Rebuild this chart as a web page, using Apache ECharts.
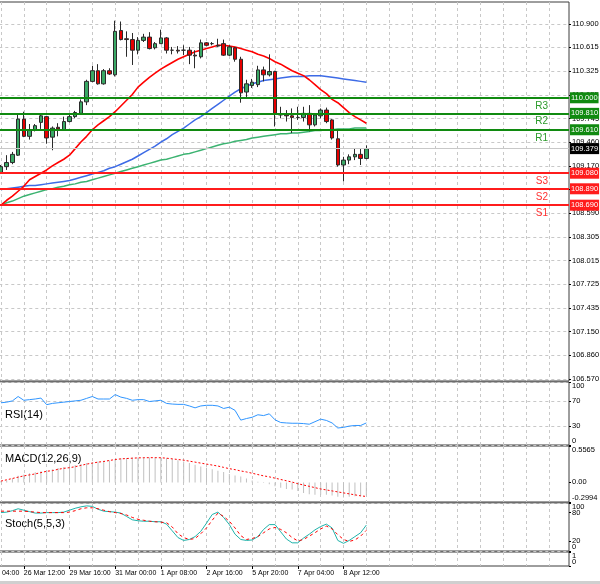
<!DOCTYPE html>
<html><head><meta charset="utf-8">
<script src="https://cdn.jsdelivr.net/npm/echarts@6/dist/echarts.min.js"></script>
<style>html,body{margin:0;padding:0;background:#fff}#c{width:600px;height:584px}</style>
</head><body><div id="c"></div>
<script>
// ---------- DATA ----------
// first 4 time slots lie left of the visible area (only the cut "04:00" label shows)
const leadTimes = ['25 Mar 04:00','25 Mar 08:00','25 Mar 12:00','25 Mar 16:00'];
const times = ['25 Mar 20:00','26 Mar 00:00','26 Mar 04:00','26 Mar 08:00','26 Mar 12:00','26 Mar 16:00','26 Mar 20:00','28 Mar 20:00',
'29 Mar 00:00','29 Mar 04:00','29 Mar 08:00','29 Mar 12:00','29 Mar 16:00','29 Mar 20:00','30 Mar 00:00','30 Mar 04:00',
'30 Mar 08:00','30 Mar 12:00','30 Mar 16:00','30 Mar 20:00','31 Mar 00:00','31 Mar 04:00','31 Mar 08:00','31 Mar 12:00',
'31 Mar 16:00','31 Mar 20:00','1 Apr 00:00','1 Apr 04:00','1 Apr 08:00','1 Apr 12:00','1 Apr 16:00','1 Apr 20:00',
'2 Apr 00:00','2 Apr 04:00','2 Apr 08:00','2 Apr 12:00','2 Apr 16:00','2 Apr 20:00','4 Apr 20:00','5 Apr 00:00',
'5 Apr 04:00','5 Apr 08:00','5 Apr 12:00','5 Apr 16:00','5 Apr 20:00','6 Apr 00:00','6 Apr 04:00','6 Apr 08:00',
'6 Apr 12:00','6 Apr 16:00','6 Apr 20:00','7 Apr 00:00','7 Apr 04:00','7 Apr 08:00','7 Apr 12:00','7 Apr 16:00',
'7 Apr 20:00','8 Apr 00:00','8 Apr 04:00','8 Apr 08:00','8 Apr 12:00','8 Apr 16:00','8 Apr 20:00','9 Apr 00:00','9 Apr 04:00'];
const timeLabels = ['25 Mar 04:00','26 Mar 12:00','29 Mar 16:00','31 Mar 00:00','1 Apr 08:00','2 Apr 16:00','5 Apr 20:00','7 Apr 04:00','8 Apr 12:00'];

const open = [109.09,109.16,109.21,109.30,109.74,109.53,109.61,109.70,109.77,109.52,
109.64,109.61,109.71,109.77,109.81,109.95,110.20,110.33,110.17,110.33,
110.28,110.82,110.72,110.71,110.58,110.70,110.74,110.61,110.66,110.73,
110.58,110.58,110.58,110.58,110.52,110.50,110.67,110.66,110.64,110.66,
110.52,110.61,110.47,110.07,110.15,110.16,110.34,110.28,110.32,109.80,
109.79,109.78,109.76,109.76,109.81,109.67,109.78,109.85,109.73,109.50,
109.18,109.24,109.28,109.31,109.26];
const high = [109.18,109.30,109.34,109.81,109.83,109.68,109.68,109.79,109.78,109.65,
109.69,109.77,109.80,109.84,109.98,110.22,110.39,110.41,110.35,110.36,
110.94,110.93,110.81,110.79,110.74,110.78,110.80,110.68,110.83,110.74,
110.62,110.63,110.64,110.62,110.58,110.71,110.68,110.68,110.72,110.71,
110.64,110.62,110.50,110.22,110.23,110.39,110.38,110.53,110.33,109.89,
109.85,109.87,109.89,109.89,109.91,109.81,109.87,109.88,109.74,109.61,
109.28,109.31,109.38,109.38,109.42];
const low = [109.07,109.12,109.19,109.29,109.52,109.49,109.59,109.62,109.44,109.36,
109.53,109.60,109.70,109.75,109.79,109.91,110.19,110.16,110.16,110.28,
110.26,110.70,110.50,110.40,110.53,110.68,110.59,110.59,110.66,110.54,
110.53,110.54,110.52,110.41,110.36,110.48,110.63,110.64,110.62,110.51,
110.51,110.44,109.94,110.01,110.12,110.13,110.20,110.26,109.65,109.75,
109.71,109.57,109.73,109.71,109.59,109.65,109.75,109.69,109.49,109.16,
108.98,109.19,109.24,109.18,109.25];
const close = [109.16,109.21,109.31,109.74,109.53,109.61,109.66,109.78,109.51,109.63,
109.62,109.71,109.77,109.82,109.95,110.20,110.33,110.17,110.33,110.29,
110.81,110.71,110.71,110.58,110.70,110.74,110.60,110.66,110.73,110.58,
110.58,110.57,110.58,110.52,110.51,110.67,110.64,110.66,110.63,110.52,
110.62,110.47,110.06,110.17,110.19,110.34,110.28,110.32,109.81,109.79,
109.78,109.76,109.76,109.81,109.67,109.79,109.85,109.71,109.51,109.18,
109.24,109.28,109.31,109.26,109.379];

const maRed = [108.69,108.75,108.80,108.86,108.92,109.00,109.04,109.08,109.12,109.17,
109.21,109.25,109.30,109.38,109.46,109.53,109.61,109.67,109.72,109.77,
109.83,109.90,109.97,110.04,110.13,110.19,110.25,110.30,110.35,110.39,
110.43,110.47,110.50,110.53,110.56,110.58,110.60,110.62,110.64,110.64,
110.63,110.62,110.60,110.58,110.56,110.53,110.51,110.48,110.44,110.41,
110.37,110.33,110.30,110.27,110.22,110.16,110.10,110.05,109.98,109.94,
109.88,109.82,109.77,109.73,109.69];
const maBlue = [108.88,108.89,108.90,108.91,108.92,108.93,108.93,108.94,108.95,108.96,
108.97,108.98,108.99,109.01,109.03,109.05,109.07,109.09,109.11,109.14,
109.16,109.19,109.22,109.25,109.29,109.33,109.37,109.41,109.46,109.50,
109.55,109.59,109.63,109.68,109.73,109.77,109.82,109.87,109.92,109.97,
110.02,110.07,110.11,110.14,110.17,110.19,110.21,110.22,110.23,110.24,
110.25,110.26,110.26,110.26,110.27,110.27,110.27,110.26,110.25,110.24,
110.23,110.22,110.21,110.20,110.19];
const maGreen = [108.69,108.72,108.74,108.77,108.80,108.82,108.84,108.86,108.88,108.89,
108.91,108.92,108.94,108.95,108.97,108.98,109.00,109.02,109.04,109.06,
109.08,109.10,109.12,109.14,109.16,109.18,109.20,109.22,109.24,109.25,
109.27,109.29,109.31,109.32,109.34,109.36,109.38,109.40,109.42,109.44,
109.45,109.47,109.48,109.49,109.51,109.52,109.53,109.54,109.55,109.56,
109.56,109.57,109.57,109.58,109.59,109.60,109.60,109.61,109.61,109.62,
109.62,109.62,109.63,109.63,109.63];

const rsi = [67,68,70,77,71,72,73,74.5,64,66,
67,68,69,70,71,74,77,73,73,73,
80,76,74,71,72,72,69,70,71,66,
65,64.5,64.5,62,59,62,63,63,62,58,
60,55,39.5,42,44,48,46.7,49.5,40,35.7,
35,34.5,34.5,34,33,37,41,39,35,27,
28,30,31,31,35];
const macdHist = [0.02,0.03,0.06,0.10,0.12,0.14,0.155,0.17,0.19,0.20,
0.22,0.235,0.25,0.265,0.28,0.295,0.31,0.32,0.33,0.335,
0.35,0.37,0.375,0.38,0.38,0.38,0.38,0.38,0.38,0.37,
0.36,0.34,0.32,0.295,0.27,0.245,0.225,0.20,0.18,0.16,
0.13,0.105,0.09,0.06,0.03,0.01,-0.01,-0.03,-0.06,-0.08,
-0.10,-0.11,-0.13,-0.16,-0.18,-0.19,-0.19,-0.19,-0.20,-0.22,
-0.23,-0.22,-0.21,-0.21,-0.20];
const macdSignal = [0.02,0.04,0.06,0.08,0.10,0.115,0.13,0.15,0.17,0.18,
0.20,0.215,0.225,0.24,0.26,0.28,0.295,0.31,0.32,0.335,
0.35,0.36,0.365,0.37,0.375,0.377,0.378,0.378,0.377,0.37,
0.36,0.35,0.34,0.325,0.31,0.295,0.28,0.265,0.25,0.23,
0.21,0.195,0.175,0.16,0.14,0.12,0.10,0.085,0.065,0.045,
0.025,0.005,-0.02,-0.04,-0.06,-0.08,-0.10,-0.115,-0.13,-0.145,
-0.16,-0.175,-0.19,-0.205,-0.215];
const stochK = [80,81,84,88,85,82,79,79,80,80,
80,81,85,89,92,94,93,87,83,82,
81,79,72,65,63,62,62,61,61,56,
42,28,22,24,30,41,58,76,81,70,
55,35,24,22,23,30,45,55,55,40,
25,17,17,27,35,44,51,56,48,22,
16,22,30,38,54];
const stochD = [83,83,83,83,83,82,81,80,80,80,
80,80,81,84,88,90,90,88,85,82,
80,78,75,70,66,64,62,61,60,59,
50,36,28,24,26,36,48,64,79,72,
62,48,32,24,26,30,38,46,49,45,
38,28,21,24,31,38,46,52,46,34,
24,20,23,31,43];

const priceTicks = [106.570,106.860,107.150,107.435,107.725,108.015,108.305,108.590,108.880,109.170,109.460,109.745,110.035,110.325,110.615,110.900];
const rsiTicks = [0,30,70,100];
const rsiLevels = [30,70];
const macdTicks = [-0.2994,0,0.5565];
const stochEndTicks = [0,100];
const stochLevels = [20,80];
const resistance = [{name:'R3',value:110.000},{name:'R2',value:109.810},{name:'R1',value:109.610}];
const support = [{name:'S3',value:109.080},{name:'S2',value:108.890},{name:'S1',value:108.690}];
const lastPrice = 109.379;
const priceMin = 106.546, priceMax = 111.168;

// ---------- CHART ----------
const SLOTS = 104;
const LEAD = leadTimes.length;
const allTimes = leadTimes.concat(times);
const cats = allTimes.concat(new Array(SLOTS - allTimes.length).fill(''));
const pad = arr => new Array(LEAD).fill('-').concat(arr);
const FONT = '"Liberation Sans", Arial, sans-serif';
const GRID_C = '#c8c8c8';
const panels = [{top:2,height:379},{top:382,height:63},{top:446,height:56},{top:503,height:48},{top:552,height:14}];
const grids = panels.map(p => Object.assign({left:-24.7, right:31, containLabel:false, outerBoundsMode:'none',
  show:true, borderColor:'#3c3c3c', borderWidth:1, backgroundColor:'#fff'}, p));
const isLbl = (idx, val) => timeLabels.indexOf(val) >= 0 && idx < allTimes.length;
const xAxes = panels.map((p,i) => ({
  type:'category', gridIndex:i, data:cats, boundaryGap:true,
  axisLine:{show:false},
  axisTick: i===4 ? {show:true, alignWithLabel:true, interval:isLbl, length:3, lineStyle:{color:'#000'}} : {show:false},
  axisLabel: i===4 ? {show:true, interval:isLbl, align:'left', fontSize:7, fontFamily:FONT, color:'#000', margin:4} : {show:false},
  splitLine:{show:true, interval:3, alignWithLabel:true, lineStyle:{color:GRID_C, type:[3,3], width:1}}
}));
function yAx(gi, min, max, ticks, levels, fmt, vMin, vMax) {
  return {
    type:'value', gridIndex:gi, position:'right', min:min, max:max,
    axisLine:{show:false},
    axisTick:{show:true, customValues:ticks, length:2, lineStyle:{color:'#000'}},
    axisLabel:{show:true, customValues:ticks, formatter:fmt, fontSize:7.5, fontFamily:FONT, color:'#000', margin:3,
      verticalAlignMinLabel:vMin||null, verticalAlignMaxLabel:vMax||null},
    splitLine: levels ? {show:true, customValues:levels, lineStyle:{color:GRID_C, type:[3,3], width:1}} : {show:false}
  };
}
const num = v => String(v);
const yAxes = [
  yAx(0, priceMin, priceMax, priceTicks, priceTicks, v => v.toFixed(3)),
  yAx(1, 0, 100, rsiTicks, rsiLevels, num, 'bottom', 'top'),
  yAx(2, macdTicks[0], macdTicks[2], macdTicks, null, v => v === 0 ? '0.00' : String(v), 'bottom', 'top'),
  yAx(3, 0, 100, stochEndTicks, stochLevels, num, 'bottom', 'top'),
  yAx(3, 0, 100, stochLevels, null, num),
  yAx(4, 0, 1, [1], null, num, 'top', 'top'),
  yAx(4, 0, 1, [0], null, num, 'bottom', 'bottom')
];

const boxLabel = (val, bg) => ({show:true, position:'end', distance:1, formatter:val.toFixed(3), backgroundColor:bg, color:'#fff',
  fontSize:7.5, fontFamily:FONT, padding:[2,1,1,1], lineHeight:8});
const levelData = [
  {yAxis:lastPrice, lineStyle:{color:'#c8c8c8', width:1, type:'solid'}, label:boxLabel(lastPrice,'#000')}
].concat(resistance.map(l => ({yAxis:l.value, lineStyle:{color:'#108a10', width:2, type:'solid'}, label:boxLabel(l.value,'#108a10')})))
 .concat(support.map(l => ({yAxis:l.value, lineStyle:{color:'#ff1c1c', width:2, type:'solid'}, label:boxLabel(l.value,'#ff1c1c')})));
const nameLabel = (txt, col) => ({show:true, position:'insideEndBottom', distance:[21,3], formatter:txt, color:col, fontSize:10, fontFamily:FONT});
const nameData = resistance.map(l => ({yAxis:l.value, label:nameLabel(l.name,'#2a9a2a')}))
  .concat(support.map(l => ({yAxis:l.value, label:nameLabel(l.name,'#ff3030')})));

const candles = pad(open.map((o,i) => [o, close[i], low[i], high[i]]));
const lineS = (data, xi, yi, color, width, type) => ({type:'line', xAxisIndex:xi, yAxisIndex:yi, data:pad(data), symbol:'none',
  showSymbol:false, silent:true, z:3, lineStyle:{color:color, width:width, type:type||'solid'}, itemStyle:{color:color}});

const option = {
  animation:false,
  backgroundColor:'#fff',
  grid:grids, xAxis:xAxes, yAxis:yAxes,
  graphic:[
    {type:'text', left:5, top:409, style:{text:'RSI(14)', font:'11px '+FONT, fill:'#000'}},
    {type:'text', left:5, top:453, style:{text:'MACD(12,26,9)', font:'11px '+FONT, fill:'#000'}},
    {type:'text', left:5, top:518, style:{text:'Stoch(5,5,3)', font:'11px '+FONT, fill:'#000'}},
    {type:'rect', left:0, top:581, shape:{width:600, height:3}, style:{fill:'#cfcfcf'}}
  ],
  series:[
    {type:'line', name:'levels', xAxisIndex:0, yAxisIndex:0, data:[], silent:true, z:4,
      markLine:{silent:true, symbol:'none', animation:false, data:levelData}},
    {type:'line', name:'levelNames', xAxisIndex:0, yAxisIndex:0, data:[], silent:true,
      markLine:{silent:true, symbol:'none', animation:false, lineStyle:{color:'rgba(255,255,255,0)', width:1, type:'solid'},
        data:nameData}},
    {type:'candlestick', xAxisIndex:0, yAxisIndex:0, data:candles, barWidth:4, silent:true, z:3,
      itemStyle:{color:'#3aa865', color0:'#e60000', borderColor:'#2b2b2b', borderColor0:'#2b2b2b', borderWidth:1}},
    lineS(maGreen, 0, 0, '#3cb371', 1.5),
    lineS(maBlue, 0, 0, '#3d6be6', 1.5),
    lineS(maRed, 0, 0, '#ff0000', 1.6),
    lineS(rsi, 1, 1, '#2f95ff', 1),
    {type:'bar', xAxisIndex:2, yAxisIndex:2, data:pad(macdHist), barWidth:1, silent:true, itemStyle:{color:'#c0c0c0'}},
    lineS(macdSignal, 2, 2, '#ff0000', 1, [2,2]),
    lineS(stochK, 3, 3, '#20b2aa', 1),
    lineS(stochD, 3, 3, '#ff0000', 1, [3,3])
  ]
};
const chart = echarts.init(document.getElementById('c'), null, {renderer:'canvas', width:600, height:584});
chart.setOption(option);
</script>
</body></html>
